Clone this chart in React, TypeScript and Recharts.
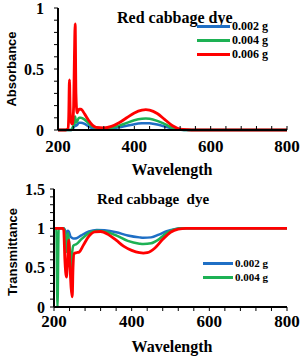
import React from 'react';
import { LineChart, Line, XAxis, YAxis } from 'recharts';

// Absorbance spectra
const absWl = [200, 220, 226, 228, 230, 232, 235, 238, 241, 243, 245, 247, 250, 255, 260, 270, 280, 290, 300, 320, 340, 360, 380, 400, 420, 430, 440, 460, 480, 500, 520, 540, 560, 600, 700, 800];
const abs002 = [0, 0, 0, 0, 0, 0, 0, 0.01, 0.02, 0.03, 0.04, 0.035, 0.04, 0.06, 0.06, 0.05, 0.03, 0.015, 0.01, 0.008, 0.012, 0.022, 0.035, 0.048, 0.055, 0.056, 0.055, 0.045, 0.028, 0.01, 0.002, 0, 0, 0, 0, 0];
const abs004 = [0, 0, 0, 0, 0, 0, 0, 0.02, 0.04, 0.08, 0.11, 0.06, 0.07, 0.1, 0.1, 0.085, 0.055, 0.03, 0.018, 0.012, 0.018, 0.035, 0.058, 0.08, 0.092, 0.094, 0.092, 0.075, 0.048, 0.018, 0.004, 0, 0, 0, 0, 0];
const abs006 = [0, 0, 0.01, 0.1, 0.41, 0.15, 0.05, 0.05, 0.2, 0.6, 0.87, 0.3, 0.14, 0.17, 0.17, 0.13, 0.08, 0.04, 0.022, 0.018, 0.03, 0.06, 0.1, 0.14, 0.163, 0.167, 0.163, 0.135, 0.085, 0.035, 0.008, 0.002, 0, 0, 0, 0];

// Transmittance spectra
const trWl002 = [200, 225, 228, 232, 235, 238, 242, 246, 250, 258, 270, 290, 310, 330, 360, 390, 420, 430, 450, 470, 490, 510, 530, 600, 800];
const tr002 = [1, 1, 0.98, 0.93, 0.97, 0.96, 0.9, 0.88, 0.87, 0.875, 0.91, 0.96, 0.98, 0.975, 0.95, 0.91, 0.885, 0.88, 0.885, 0.92, 0.965, 0.99, 1, 1, 1];
const trWl004 = [200, 206, 209, 212, 225, 229, 232, 236, 240, 244, 247, 250, 258, 270, 290, 310, 330, 360, 390, 420, 430, 450, 470, 490, 510, 530, 600, 800];
const tr004 = [1, 1, 0, 1, 1, 0.92, 0.7, 0.94, 0.75, 0.35, 0.7, 0.78, 0.8, 0.86, 0.94, 0.97, 0.96, 0.91, 0.84, 0.805, 0.8, 0.81, 0.86, 0.94, 0.985, 1, 1, 1];
const trWl006 = [200, 222, 225, 228, 232, 235, 238, 241, 244, 247, 249, 252, 258, 265, 275, 290, 305, 320, 340, 360, 380, 400, 420, 430, 440, 460, 480, 500, 520, 540, 600, 800];
const tr006 = [1, 1, 0.98, 0.6, 0.38, 0.6, 0.85, 0.55, 0.25, 0.13, 0.5, 0.68, 0.69, 0.7, 0.78, 0.9, 0.955, 0.96, 0.92, 0.85, 0.77, 0.72, 0.69, 0.685, 0.69, 0.75, 0.86, 0.95, 0.99, 1, 1, 1];

const xTicks = [200, 240, 280, 320, 360, 400, 440, 480, 520, 560, 600, 640, 680, 720, 760, 800];
const xLabels = [200, 400, 600, 800];
const absTicks = [0, 0.1, 0.2, 0.3, 0.4, 0.5, 0.6, 0.7, 0.8, 0.9, 1];
const absLabels = [0, 0.5, 1];
const trTicks = [0, 0.1, 0.2, 0.3, 0.4, 0.5, 0.6, 0.7, 0.8, 0.9, 1, 1.1, 1.2, 1.3, 1.4, 1.5];
const trLabels = [0, 0.5, 1, 1.5];

const absSeries = [
  { name: '0.002 g', color: '#1F6FC5', wl: absWl, values: abs002 },
  { name: '0.004 g', color: '#1DB154', wl: absWl, values: abs004 },
  { name: '0.006 g', color: '#FF0000', wl: absWl, values: abs006 },
];
const trSeries = [
  { name: '0.002 g', color: '#1F6FC5', wl: trWl002, values: tr002, legend: true },
  { name: '0.004 g', color: '#1DB154', wl: trWl004, values: tr004, legend: true },
  { name: '0.006 g', color: '#FF0000', wl: trWl006, values: tr006, legend: false },
];

const serif = '"Liberation Serif", "Times New Roman", serif';
const sans = '"Liberation Sans", Arial, sans-serif';

const toPoints = (wl: number[], values: number[]) => wl.map((w, i) => ({ wl: w, v: values[i] }));

const makeYTick = (labels: number[]) => (props: any) => {
  const { x, y, payload } = props;
  if (!labels.includes(payload.value)) return <g />;
  return (
    <text x={x} y={y} dy="0.35em" textAnchor="end" fontFamily={serif} fontWeight="bold" fontSize={16} fill="#000">
      {payload.value}
    </text>
  );
};

const XTick = (props: any) => {
  const { x, y, payload } = props;
  if (!xLabels.includes(payload.value)) return <g />;
  return (
    <text x={x} y={y} dy="0.71em" textAnchor="middle" fontFamily={serif} fontWeight="bold" fontSize={17} fill="#000">
      {payload.value}
    </text>
  );
};

function SeriesLegend({ items, left, top, fontSize, rowH, lineW }: { items: { name: string; color: string }[]; left: number; top: number; fontSize: number; rowH: number; lineW: number }) {
  return (
    <div style={{ position: 'absolute', left, top }}>
      {items.map((s) => (
        <div key={s.name} style={{ display: 'flex', alignItems: 'center', height: rowH }}>
          <div style={{ width: lineW, height: 3, background: s.color }} />
          <span style={{ fontFamily: serif, fontWeight: 'bold', fontSize, marginLeft: 2, lineHeight: 1 }}>{s.name}</span>
        </div>
      ))}
    </div>
  );
}

const axisStroke = { stroke: '#000', strokeWidth: 2 };

export default function App() {
  return (
    <div style={{ position: 'absolute', left: 0, top: 0, width: 308, height: 358, background: '#fff' }}>
      <div style={{ position: 'absolute', left: 0, top: 0 }}>
        <LineChart width={308} height={180} margin={{ top: 8, right: 21, bottom: 0, left: 0 }}>
          <XAxis
            dataKey="wl"
            type="number"
            domain={[200, 800]}
            ticks={xTicks}
            interval={0}
            height={50}
            axisLine={axisStroke}
            tickLine={{ stroke: '#000' }}
            tickSize={-4}
            tickMargin={14}
            tick={XTick}
            allowDuplicatedCategory={false}
          />
          <XAxis xAxisId="top" orientation="top" type="number" domain={[200, 800]} height={0} tick={false} tickLine={false} axisLine={axisStroke} />
          <YAxis
            type="number"
            domain={[0, 1]}
            ticks={absTicks}
            interval={0}
            width={58}
            axisLine={axisStroke}
            tickLine={{ stroke: '#000' }}
            tickSize={4}
            tickMargin={10}
            tick={makeYTick(absLabels)}
          />
          <YAxis yAxisId="right" orientation="right" width={0} tick={false} tickLine={false} axisLine={axisStroke} />
          {absSeries.map((s) => (
            <Line
              key={s.name}
              data={toPoints(s.wl, s.values)}
              dataKey="v"
              name={s.name}
              type="monotone"
              stroke={s.color}
              strokeWidth={s.color === '#FF0000' ? 2.8 : 2.5}
              dot={false}
              isAnimationActive={false}
            />
          ))}
        </LineChart>
        <div style={{ position: 'absolute', left: 117, top: 9, fontFamily: serif, fontWeight: 'bold', fontSize: 16, whiteSpace: 'nowrap' }}>
          Red cabbage dye
        </div>
        <SeriesLegend items={absSeries} left={197} top={19} fontSize={12} rowH={14} lineW={33} />
        <div style={{ position: 'absolute', left: 11, top: 69, transform: 'translate(-50%, -50%) rotate(-90deg)', fontFamily: sans, fontWeight: 'bold', fontSize: 13, whiteSpace: 'nowrap' }}>
          Absorbance
        </div>
        <div style={{ position: 'absolute', left: 172, top: 170, transform: 'translate(-50%, -50%)', fontFamily: serif, fontWeight: 'bold', fontSize: 16, whiteSpace: 'nowrap' }}>
          Wavelength
        </div>
      </div>

      <div style={{ position: 'absolute', left: 0, top: 180 }}>
        <LineChart width={308} height={178} margin={{ top: 9, right: 21, bottom: 0, left: 0 }}>
          <XAxis
            dataKey="wl"
            type="number"
            domain={[200, 800]}
            ticks={xTicks}
            interval={0}
            height={51}
            axisLine={axisStroke}
            tickLine={{ stroke: '#000' }}
            tickSize={4}
            tickMargin={4}
            tick={XTick}
            allowDuplicatedCategory={false}
          />
          <XAxis xAxisId="top" orientation="top" type="number" domain={[200, 800]} height={0} tick={false} tickLine={false} axisLine={axisStroke} />
          <YAxis
            type="number"
            domain={[0, 1.5]}
            ticks={trTicks}
            interval={0}
            width={54}
            axisLine={axisStroke}
            tickLine={{ stroke: '#000' }}
            tickSize={4}
            tickMargin={5}
            tick={makeYTick(trLabels)}
          />
          <YAxis yAxisId="right" orientation="right" width={0} tick={false} tickLine={false} axisLine={axisStroke} />
          {trSeries.map((s) => (
            <Line
              key={s.name}
              data={toPoints(s.wl, s.values)}
              dataKey="v"
              name={s.name}
              type="monotone"
              stroke={s.color}
              strokeWidth={s.color === '#FF0000' ? 2.8 : 2.5}
              dot={false}
              isAnimationActive={false}
            />
          ))}
        </LineChart>
        <div style={{ position: 'absolute', left: 97, top: 11, fontFamily: serif, fontWeight: 'bold', fontSize: 15, whiteSpace: 'pre' }}>
          Red cabbage  dye
        </div>
        <SeriesLegend items={trSeries.filter((s) => s.legend)} left={203} top={76} fontSize={11} rowH={14} lineW={30} />
        <div style={{ position: 'absolute', left: 12, top: 72, transform: 'translate(-50%, -50%) rotate(-90deg)', fontFamily: sans, fontWeight: 'bold', fontSize: 13, whiteSpace: 'nowrap' }}>
          Transmittance
        </div>
        <div style={{ position: 'absolute', left: 172, top: 167, transform: 'translate(-50%, -50%)', fontFamily: serif, fontWeight: 'bold', fontSize: 16, whiteSpace: 'nowrap' }}>
          Wavelength
        </div>
      </div>
    </div>
  );
}
